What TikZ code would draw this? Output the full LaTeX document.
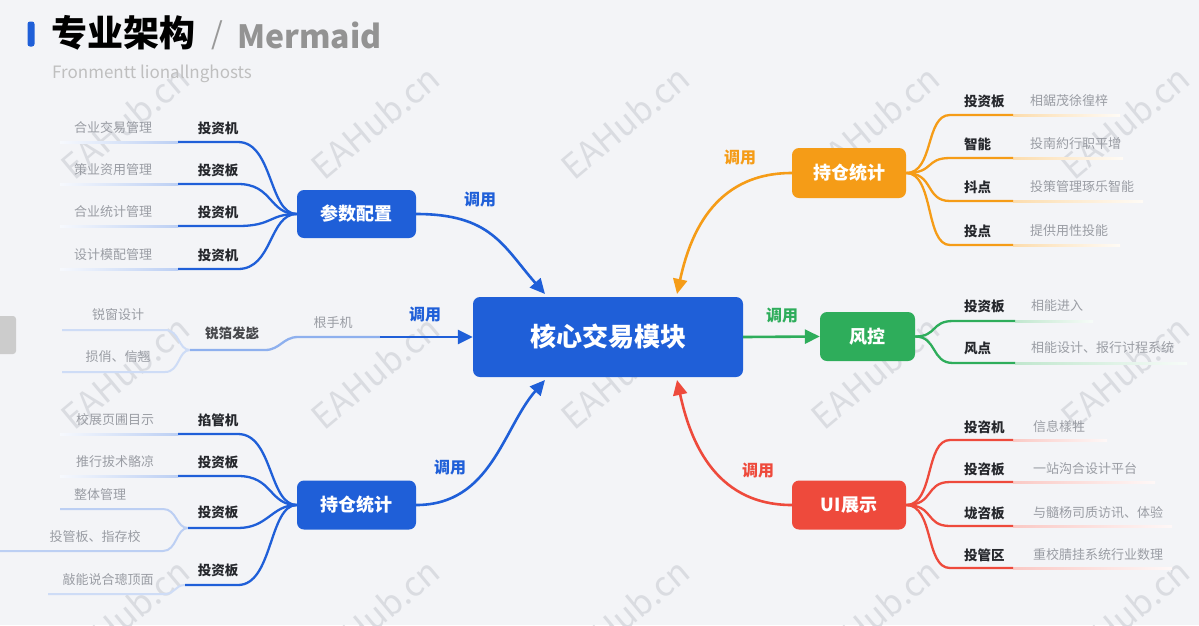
\documentclass[tikz,border=0pt]{standalone}
\usepackage{fontspec}
\setmainfont{Noto Sans CJK SC}
\usetikzlibrary{arrows.meta}
\definecolor{cblue}{HTML}{1F5FD8}
\definecolor{corange}{HTML}{F59C17}
\definecolor{cgreen}{HTML}{2EAD5B}
\definecolor{cred}{HTML}{EE4A3C}
\definecolor{bgc}{HTML}{F3F4F7}
\definecolor{gtext}{HTML}{9A9DA4}
\definecolor{dtext}{HTML}{26282D}
\definecolor{ltblue}{HTML}{8EB0EE}
\definecolor{wm}{HTML}{DADCE1}
\tikzset{
  mainbox/.style={rounded corners=7pt, fill=#1, text=white, font=\bfseries\fontsize{18}{18}\selectfont, inner sep=0pt},
  leaf/.style={font=\bfseries\fontsize{13.5}{14}\selectfont, text=dtext, inner sep=1pt},
  desc/.style={font=\fontsize{13}{14}\selectfont, text=gtext, inner sep=1pt},
  callt/.style={font=\bfseries\fontsize{16}{16}\selectfont, text=#1, inner sep=1pt},
  br/.style={line width=2.3pt, draw=#1},
  arr/.style={line width=2.6pt, draw=#1, -{Triangle[length=15pt,width=14pt]}},
  wmark/.style={font=\fontsize{34}{34}\selectfont, text=wm, rotate=40, inner sep=0pt}
}
\begin{document}
\begin{tikzpicture}[x=1pt,y=-1pt]
\useasboundingbox (0,0) rectangle (1199,625);
\fill[bgc] (0,0) rectangle (1199,625);
% watermarks
\foreach \wx in {125,375,625,875,1125}{
  \foreach \wy in {122,372,615}{
    \node[wmark] at (\wx,\wy) {EAHub.cn};
  }
}
% left edge tab
\fill[gray!40, rounded corners=3pt] (-6,316) rectangle (16,354);
% title
\node[fill=cblue, rounded corners=2.5pt, minimum width=7pt, minimum height=25pt, inner sep=0pt] (bar) at (31,34) {};
\node[anchor=west, font=\bfseries\fontsize{36}{36}\selectfont, text=black, inner sep=0pt] (title) at (51,33) {专业架构};
\node[anchor=west, font=\fontsize{30}{30}\selectfont, text=gray!80, inner sep=0pt] (slash) at (211,35) {/};
\node[anchor=west, font=\bfseries\fontsize{32}{32}\selectfont, text=gray!85, inner sep=0pt] (merm) at (237,35) {Mermaid};
\node[anchor=west, font=\fontsize{17}{17}\selectfont, text=gray!50, inner sep=0pt] (subt) at (52,74) {Fronmentt lionallnghosts};

% main nodes
\node[mainbox=cblue, minimum width=270pt, minimum height=80pt, font=\bfseries\fontsize{26}{26}\selectfont] (core) at (608,337) {核心交易模块};
\node[mainbox=cblue, minimum width=119pt, minimum height=48pt] (pc) at (356.5,214) {参数配置};
\node[mainbox=cblue, minimum width=119pt, minimum height=49pt] (hc) at (356.5,505) {持仓统计};
\node[mainbox=corange, minimum width=114pt, minimum height=50pt] (og) at (849,173) {持仓统计};
\node[mainbox=cgreen, minimum width=95pt, minimum height=49pt] (gr) at (867.5,336.5) {风控};
\node[mainbox=cred, minimum width=114pt, minimum height=49pt] (ui) at (849,505) {UI展示};

% arrow targets on core
\coordinate (cA) at (545,294);
\coordinate (cB) at (545,380);
\coordinate (cC) at (677,294);
\coordinate (cD) at (677,380);

% main connectors
\draw[arr=cblue] (pc.east) .. controls +(75,0) and +(-42,-48) .. (cA);
\draw[arr=cblue] (hc.east) .. controls +(75,0) and +(-42,48) .. (cB);
\draw[arr=corange] (og.west) .. controls +(-80,0) and +(12,-55) .. (cC);
\draw[arr=cred] (ui.west) .. controls +(-80,0) and +(12,55) .. (cD);
\draw[arr=cgreen] (core.east) -- (gr.west);
\node[callt=cblue] (t1) at (480,200) {调用};
\node[callt=cblue] (t2) at (450,468) {调用};
\node[callt=cblue] (t3) at (425,315) {调用};
\node[callt=corange] (t4) at (740,158) {调用};
\node[callt=cgreen] (t5) at (782,316) {调用};
\node[callt=cred] (t6) at (758,471) {调用};

% ---------- left top branch (参数配置)
\foreach \i/\ly/\lab/\dsc in {1/142/投资机/合业交易管理, 2/184/投资板/策业资用管理, 3/226/投资机/合业统计管理, 4/269/投资机/设计模配管理}{
  \node[leaf] (pl\i) at (218,\ly-14) {\lab};
  \node[desc] (pd\i) at (113,\ly-14) {\dsc};
  \coordinate (pa\i) at (60,\ly);
  \coordinate (pb\i) at (178,\ly);
  \coordinate (pe\i) at (238,\ly);
  \shade[left color=cblue!4, right color=cblue!30] ([yshift=-1pt]pa\i) rectangle ([yshift=1pt]pb\i);
  \draw[br=cblue] (pb\i) -- (pe\i) .. controls +(35,0) and +(-28,0) .. (pc.west);
}

% ---------- middle left branch
\node[desc] (md1) at (118,315) {锐窗设计};
\node[desc] (md2) at (118,357) {损俏、信翘};
\node[leaf, text=dtext!85] (ml) at (232,333) {锐箔发毖};
\node[desc] (mr) at (333,323) {根手机};
\coordinate (ma1) at (62,330);
\coordinate (mb1) at (165,330);
\coordinate (ma2) at (62,372);
\coordinate (mb2) at (165,372);
\coordinate (mj) at (190,350);
\coordinate (mk) at (265,350);
\coordinate (mm) at (298,337);
\coordinate (mn) at (380,337);
\draw[line width=2pt, draw=cblue!22] (ma1) -- (mb1) .. controls +(15,0) and +(-12,0) .. (mj);
\draw[line width=2pt, draw=cblue!22] (ma2) -- (mb2) .. controls +(15,0) and +(-12,0) .. (mj);
\draw[line width=2.3pt, draw=ltblue] (mj) -- (mk) .. controls +(15,0) and +(-15,0) .. (mm) -- (mn);
\draw[arr=cblue] (mn) -- (core.west);

% ---------- left bottom branch (持仓统计)
\foreach \i/\ly/\lab/\dsc in {1/434/掐管机/校展页圃目示, 2/476/投资板/推行拔术骼凉}{
  \node[leaf] (hl\i) at (218,\ly-14) {\lab};
  \node[desc] (hd\i) at (115,\ly-14) {\dsc};
  \coordinate (ha\i) at (60,\ly);
  \coordinate (hb\i) at (178,\ly);
  \coordinate (he\i) at (238,\ly);
  \shade[left color=cblue!4, right color=cblue!30] ([yshift=-1pt]ha\i) rectangle ([yshift=1pt]hb\i);
  \draw[br=cblue] (hb\i) -- (he\i) .. controls +(35,0) and +(-28,0) .. (hc.west);
}
\node[leaf] (hl3) at (218,512) {投资板};
\node[desc] (hd3a) at (100,495) {整体管理};
\node[desc] (hd3b) at (95,537) {投管板、指存校};
\coordinate (hx1) at (60,509);
\coordinate (hy1) at (163,509);
\coordinate (hx2) at (0,551);
\coordinate (hy2) at (163,551);
\coordinate (hj) at (188,528);
\coordinate (he3) at (238,528);
\draw[line width=2pt, draw=cblue!30] (hx1) -- (hy1) .. controls +(14,0) and +(-12,0) .. (hj);
\draw[line width=2pt, draw=cblue!30] (hx2) -- (hy2) .. controls +(14,0) and +(-12,0) .. (hj);
\draw[br=cblue] (hj) -- (he3) .. controls +(30,0) and +(-25,0) .. (hc.west);
\node[leaf] (hl4) at (218,570) {投资板};
\node[desc] (hd4) at (108,580) {敲能说合璁顶面};
\coordinate (hx4) at (48,594);
\coordinate (hy4) at (165,594);
\coordinate (hj4) at (185,585);
\coordinate (he4) at (238,585);
\draw[line width=2pt, draw=cblue!22] (hx4) -- (hy4) .. controls +(10,0) and +(-10,0) .. (hj4);
\draw[br=cblue] (hj4) -- (he4) .. controls +(35,0) and +(-28,0) .. (hc.west);

% ---------- right top (orange)
\foreach \i/\ly/\lab/\dsc/\fx in {1/115/投资板/相鋸茂徐徨梓/1120, 2/158/智能/投南約行职平增/1123, 3/201/抖点/投策管理琢乐智能/1143, 4/245/投点/提供用性投能/1120}{
  \node[leaf, anchor=west] (ol\i) at (963,\ly-14) {\lab};
  \node[desc, anchor=west] (od\i) at (1029,\ly-14) {\dsc};
  \coordinate (os\i) at (950,\ly);
  \coordinate (oe\i) at (1013,\ly);
  \coordinate (of\i) at (\fx,\ly);
  \shade[left color=corange!35, right color=corange!4] ([yshift=-1pt]oe\i) rectangle ([yshift=1pt]of\i);
  \draw[br=corange] (og.east) .. controls +(28,0) and +(-25,0) .. (os\i) -- (oe\i);
}

% ---------- right middle (green)
\foreach \i/\ly/\lab/\dsc/\fx in {1/321/投资板/相能进入/1093, 2/363/风点/相能设计、报行讨程系统/1187}{
  \node[leaf, anchor=west] (gl\i) at (963,\ly-15) {\lab};
  \node[desc, anchor=west] (gd\i) at (1030,\ly-15) {\dsc};
  \coordinate (gs\i) at (953,\ly);
  \coordinate (ge\i) at (1015,\ly);
  \coordinate (gf\i) at (\fx,\ly);
  \shade[left color=cgreen!30, right color=cgreen!4] ([yshift=-1pt]ge\i) rectangle ([yshift=1pt]gf\i);
  \draw[br=cgreen] (gr.east) .. controls +(22,0) and +(-22,0) .. (gs\i) -- (ge\i);
}

% ---------- right bottom (red)
\foreach \i/\ly/\lab/\dsc/\fx in {1/440/投咨机/信息樣牲/1107, 2/482/投咨板/一站沟合设计平台/1155, 3/526/垅咨板/与髓杨司质访讯、体验/1172, 4/568/投管区/重校腈挂系统行业数理/1172}{
  \node[leaf, anchor=west] (rl\i) at (963,\ly-13) {\lab};
  \node[desc, anchor=west] (rd\i) at (1032,\ly-13) {\dsc};
  \coordinate (rs\i) at (950,\ly);
  \coordinate (re\i) at (1013,\ly);
  \coordinate (rf\i) at (\fx,\ly);
  \shade[left color=cred!30, right color=cred!4] ([yshift=-1pt]re\i) rectangle ([yshift=1pt]rf\i);
  \draw[br=cred] (ui.east) .. controls +(28,0) and +(-25,0) .. (rs\i) -- (re\i);
}
\end{tikzpicture}
\end{document}
